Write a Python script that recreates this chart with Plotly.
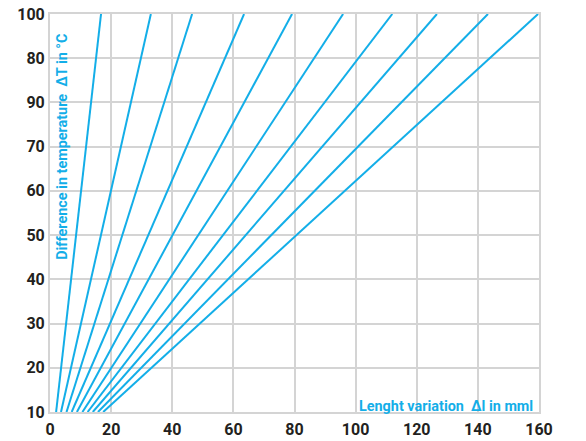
import plotly.graph_objects as go

# x (mm) where each line meets dT = 10 and dT = 100
x_at_10 = [2.0, 3.6, 5.4, 7.1, 8.8, 10.6, 12.3, 14.0, 15.7, 17.4]
x_at_100 = [16.7, 33.0, 46.5, 63.5, 79.2, 95.9, 112.0, 126.6, 143.3, 159.7]
y_ends = [10, 100]

x_ticks = [0, 20, 40, 60, 80, 100, 120, 140, 160]
y_ticks = [10, 20, 30, 40, 50, 60, 70, 80, 90, 100]
y_ticktext = ["10", "20", "30", "40", "50", "60", "70", "90", "80", "100"]

BLUE = "#13aee8"
GRID = "#d4d4d4"
TXT = "#231f20"

fig = go.Figure()
for a, b in zip(x_at_10, x_at_100):
    fig.add_trace(go.Scatter(x=[a, b], y=y_ends, mode="lines",
                             line=dict(color=BLUE, width=2), showlegend=False,
                             hoverinfo="skip"))

fig.add_annotation(x=4.3, y=70, xref="x", yref="y", text="Difference in temperature  ΔT in °C",
                   textangle=-90, showarrow=False, xanchor="center", yanchor="middle",
                   font=dict(family="Roboto", size=14.4, color=BLUE, weight="bold"))
fig.add_annotation(x=158.7, y=11.3, xref="x", yref="y", text="Lenght variation  Δl in mml",
                   showarrow=False, xanchor="right", yanchor="middle",
                   font=dict(family="Roboto", size=14.4, color=BLUE, weight="bold"))

fig.update_layout(
    width=586, height=441,
    margin=dict(l=50, r=47, t=14, b=29, autoexpand=False),
    paper_bgcolor="white", plot_bgcolor="white",
    font=dict(family="Roboto", color=TXT),
)
fig.update_xaxes(range=[0, 160], tickvals=x_ticks, showgrid=True, gridcolor=GRID, gridwidth=2,
                 showline=True, linecolor=GRID, linewidth=2, mirror=True, zeroline=False,
                 ticks="", automargin=False, ticklabelstandoff=2, ticklabeloverflow="allow",
                 tickfont=dict(family="Roboto", size=16, color=TXT, weight="bold"))
fig.update_yaxes(range=[10, 100], tickvals=y_ticks, ticktext=y_ticktext, showgrid=True,
                 gridcolor=GRID, gridwidth=2, showline=True, linecolor=GRID, linewidth=2,
                 mirror=True, zeroline=False, ticks="", automargin=False,
                 ticklabeloverflow="allow",
                 tickfont=dict(family="Roboto", size=16, color=TXT, weight="bold"))

fig.write_html("out.html", config={"displayModeBar": False},
               post_script="document.body.style.margin='0';")
